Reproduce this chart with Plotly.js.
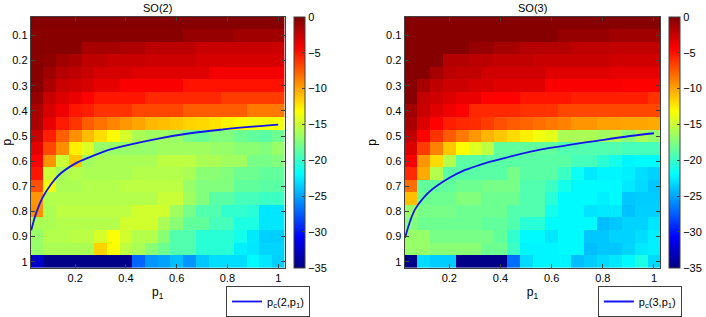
<!DOCTYPE html>
<html>
<head>
<meta charset="utf-8">
<script src="https://cdn.plot.ly/plotly-3.0.1.min.js"></script>
<style>
html,body{margin:0;padding:0;background:#fff;}
#chart{width:706px;height:317px;}
</style>
</head>
<body>
<div id="chart"></div>
<script>
// ---- data ----
const p1Values = [0.05,0.10,0.15,0.20,0.25,0.30,0.35,0.40,0.45,0.50,0.55,0.60,0.65,0.70,0.75,0.80,0.85,0.90,0.95,1.00];
const pValues  = [0.05,0.10,0.15,0.20,0.25,0.30,0.35,0.40,0.45,0.50,0.55,0.60,0.65,0.70,0.75,0.80,0.85,0.90,0.95,1.00];

const so2Values = [
 [-0.2,-0.2,-0.2,-0.2,-0.2,-0.2,-0.2,-0.2,-0.2,-0.2,-0.2,-0.2,-0.2,-0.2,-0.2,-0.2,-0.2,-0.2,-0.2,-0.2],
 [-0.3,-0.3,-0.3,-0.3,-0.3,-0.3,-0.3,-0.3,-0.3,-0.3,-0.3,-0.3,-0.75,-0.75,-0.75,-0.75,-1.1,-1.1,-1.1,-1.1],
 [-0.3,-0.3,-0.3,-0.3,-1.3,-1.3,-1.3,-1.6,-1.6,-2.0,-2.0,-2.0,-2.0,-2.5,-2.5,-2.5,-2.5,-2.5,-2.5,-2.65],
 [-0.3,-0.5,-1.1,-1.45,-2.15,-2.15,-2.5,-2.5,-2.5,-2.65,-2.65,-2.65,-2.65,-3.0,-3.0,-3.0,-3.0,-3.0,-3.0,-3.0],
 [-0.3,-1.1,-1.8,-2.15,-2.5,-3.0,-3.0,-3.0,-3.35,-3.35,-3.35,-3.35,-3.35,-3.35,-4.0,-4.0,-4.0,-4.0,-4.0,-4.0],
 [-0.25,-1.45,-2.5,-2.8,-3.0,-3.5,-3.5,-4.2,-4.2,-4.2,-4.2,-4.2,-5.0,-5.0,-5.0,-5.0,-5.0,-5.0,-5.0,-5.0],
 [-0.75,-2.5,-3.2,-3.7,-4.4,-5.1,-5.1,-5.1,-5.1,-5.75,-5.75,-5.75,-5.75,-5.75,-5.75,-6.4,-6.4,-6.4,-6.4,-6.4],
 [-1.45,-3.0,-3.85,-5.1,-5.4,-6.1,-6.1,-6.1,-6.8,-6.8,-6.8,-6.8,-7.5,-7.5,-7.5,-7.5,-7.5,-8.5,-8.5,-8.5],
 [-1.6,-3.6,-5.3,-6.2,-7.5,-8.3,-8.9,-9.6,-10.0,-10.7,-10.9,-11.2,-11.6,-11.8,-12.2,-12.7,-13.0,-13.5,-13.5,-13.5],
 [-2.5,-5.4,-7.6,-9.3,-10.8,-12.0,-13.0,-14.6,-16.0,-16.4,-16.4,-16.7,-17.8,-18.1,-17.4,-17.4,-18.1,-18.5,-18.8,-18.1],
 [-3.5,-6.8,-9.2,-12.6,-14.3,-16.7,-16.7,-16.7,-16.7,-16.7,-16.4,-16.4,-16.4,-16.4,-16.7,-16.7,-17.1,-17.1,-17.4,-16.7],
 [-4.4,-9.5,-15.0,-11.2,-16.4,-16.0,-16.0,-16.0,-16.0,-16.0,-15.4,-15.4,-15.4,-16.0,-16.0,-16.4,-16.4,-17.8,-17.8,-17.4],
 [-5.1,-15.0,-16.0,-15.7,-16.0,-16.0,-16.0,-16.0,-15.7,-15.7,-15.7,-15.7,-16.0,-17.1,-17.1,-17.4,-18.1,-18.1,-18.5,-18.5],
 [-7.1,-13.6,-16.0,-16.0,-15.7,-15.7,-15.7,-15.4,-15.4,-15.4,-15.4,-15.4,-16.7,-17.4,-17.4,-17.4,-18.5,-18.5,-18.8,-18.8],
 [-9.5,-15.7,-15.7,-15.7,-15.7,-15.7,-15.7,-15.7,-15.7,-15.7,-15.0,-15.0,-16.4,-17.4,-18.8,-18.8,-19.5,-19.5,-19.8,-19.8],
 [-9.2,-16.0,-15.4,-15.4,-15.4,-15.4,-15.4,-15.4,-14.7,-14.7,-14.7,-16.4,-17.8,-19.1,-19.1,-20.2,-20.2,-20.5,-22.7,-22.7],
 [-16.0,-16.0,-15.7,-15.7,-15.7,-15.7,-15.7,-14.7,-14.7,-14.7,-16.0,-17.1,-18.5,-18.5,-19.5,-19.5,-20.9,-20.9,-22.7,-22.7],
 [-16.7,-15.7,-15.7,-15.5,-15.5,-14.5,-13.3,-14.7,-15.7,-15.7,-17.1,-19.1,-19.1,-20.5,-20.5,-20.5,-21.2,-22.6,-23.5,-23.5],
 [-16.7,-16.0,-16.0,-16.0,-16.0,-11.6,-13.0,-15.4,-16.0,-17.1,-18.1,-19.1,-19.1,-20.5,-20.5,-20.5,-22.4,-22.7,-23.3,-23.3],
 [-32.5,-34.7,-34.7,-34.7,-34.7,-34.7,-34.7,-34.7,-27.2,-25.5,-25.1,-24.1,-25.5,-23.8,-23.0,-23.0,-23.0,-22.0,-22.7,-23.5]
];

const so3Values = [
 [-0.2,-0.2,-0.2,-0.2,-0.2,-0.2,-0.2,-0.2,-0.2,-0.2,-0.2,-0.2,-0.2,-0.2,-0.2,-0.2,-0.2,-0.2,-0.2,-0.2],
 [-0.2,-0.2,-0.2,-0.2,-0.2,-0.2,-0.2,-0.2,-0.2,-0.2,-0.2,-0.2,-0.75,-0.75,-0.75,-0.75,-1.1,-1.1,-1.1,-1.1],
 [-0.2,-0.2,-0.2,-0.2,-0.2,-0.75,-0.75,-1.3,-1.3,-1.8,-1.8,-1.8,-1.8,-2.15,-2.15,-2.15,-2.3,-2.3,-2.3,-2.3],
 [-0.2,-0.2,-0.2,-1.8,-1.8,-2.0,-2.0,-2.3,-2.3,-2.3,-2.5,-2.5,-2.5,-2.5,-2.5,-2.5,-2.8,-2.8,-2.8,-2.8],
 [-0.2,-0.2,-1.3,-2.0,-2.3,-2.3,-2.8,-2.8,-2.8,-2.8,-2.8,-3.35,-3.35,-3.35,-3.35,-3.35,-3.5,-3.5,-3.5,-3.5],
 [-0.3,-1.3,-2.15,-2.65,-2.65,-3.0,-3.0,-3.35,-3.35,-3.35,-3.35,-4.2,-4.2,-4.2,-4.2,-4.2,-4.2,-4.3,-4.3,-4.3],
 [-0.3,-2.3,-2.8,-3.2,-3.7,-3.7,-4.4,-4.4,-4.4,-5.1,-5.1,-5.1,-5.1,-5.4,-5.4,-5.4,-5.4,-5.4,-5.4,-6.1],
 [-1.1,-2.5,-3.35,-3.85,-4.4,-5.75,-5.75,-5.75,-5.75,-6.1,-6.1,-6.1,-6.8,-6.8,-6.8,-6.8,-6.8,-6.8,-6.8,-6.8],
 [-1.45,-3.2,-4.4,-5.4,-5.75,-5.9,-6.4,-7.1,-7.5,-7.8,-8.2,-8.5,-8.8,-9.5,-9.5,-9.9,-9.9,-10.0,-10.0,-10.2],
 [-2.15,-4.4,-6.1,-7.5,-8.5,-9.5,-10.6,-11.2,-11.9,-12.6,-13.6,-14.0,-16.0,-16.0,-16.0,-16.4,-16.0,-17.1,-16.0,-16.7],
 [-3.2,-6.4,-8.8,-11.2,-13.1,-14.3,-15.4,-18.5,-18.5,-18.5,-18.5,-18.5,-19.1,-19.1,-19.1,-19.1,-19.1,-19.5,-19.5,-19.5],
 [-4.2,-9.5,-11.9,-15.7,-18.8,-18.8,-18.8,-18.8,-18.8,-18.8,-18.8,-18.8,-18.8,-19.5,-19.5,-20.5,-21.2,-22.2,-22.0,-22.0],
 [-5.75,-10.2,-15.7,-18.8,-18.8,-18.8,-18.8,-18.8,-17.8,-18.8,-18.8,-18.8,-19.8,-21.5,-22.6,-22.2,-22.2,-22.4,-23.0,-23.4],
 [-8.2,-18.5,-18.5,-18.5,-18.1,-18.1,-17.8,-17.8,-17.8,-19.1,-19.1,-19.8,-21.2,-22.0,-22.0,-22.0,-22.0,-22.6,-23.1,-23.8],
 [-10.9,-18.1,-18.1,-18.1,-17.4,-17.4,-18.1,-18.1,-18.1,-19.1,-19.1,-20.5,-22.0,-22.0,-22.0,-22.4,-22.0,-23.8,-23.6,-23.6],
 [-16.7,-17.8,-17.8,-17.8,-18.1,-18.1,-18.1,-18.1,-19.1,-19.1,-19.1,-21.2,-22.0,-22.0,-22.8,-22.6,-22.6,-24.0,-23.5,-23.5],
 [-17.4,-18.1,-18.1,-18.1,-18.1,-18.1,-18.5,-18.5,-19.1,-20.5,-20.5,-22.0,-22.0,-22.0,-22.0,-24.1,-23.8,-23.4,-23.4,-22.7],
 [-16.7,-16.7,-17.8,-17.8,-17.8,-17.8,-17.8,-18.5,-20.2,-22.0,-22.0,-22.7,-22.0,-22.0,-23.8,-23.8,-23.4,-23.4,-23.0,-22.4],
 [-16.7,-16.7,-17.1,-17.1,-17.1,-17.1,-18.1,-18.1,-19.8,-22.2,-22.2,-22.2,-22.0,-22.0,-24.1,-23.8,-23.8,-23.3,-22.6,-22.4],
 [-34.7,-23.1,-23.6,-23.6,-34.7,-34.7,-34.7,-34.7,-26.9,-23.1,-22.2,-22.2,-22.2,-24.1,-23.6,-23.1,-22.7,-22.1,-21.0,-23.1]
];

const so2CurveP1 = [0.027,0.045,0.071,0.103,0.135,0.200,0.265,0.329,0.394,0.523,0.653,0.783,0.912,1.000];
const so2CurveP  = [0.875,0.811,0.746,0.695,0.656,0.610,0.581,0.556,0.539,0.511,0.489,0.474,0.462,0.455];
const so3CurveP1 = [0.027,0.047,0.066,0.099,0.131,0.196,0.260,0.325,0.389,0.518,0.648,0.777,0.906,1.000];
const so3CurveP  = [0.905,0.838,0.792,0.746,0.714,0.669,0.636,0.613,0.595,0.562,0.539,0.519,0.500,0.489];

const xTicks = [0.2,0.4,0.6,0.8,1];
const xTickText = ['0.2','0.4','0.6','0.8','1'];
const yTicks = [0.1,0.2,0.3,0.4,0.5,0.6,0.7,0.8,0.9,1];
const yTickText = ['0.1','0.2','0.3','0.4','0.5','0.6','0.7','0.8','0.9','1'];
const cbTicks = [-35,-30,-25,-20,-15,-10,-5,0];

// ---- styles ----
const W = 706, H = 317;
const FONT = '"Liberation Sans", Arial, Helvetica, sans-serif';
const AX = '#404040';
const jet = [
  [0.0,'rgb(0,0,128)'],[0.125,'rgb(0,0,255)'],[0.375,'rgb(0,255,255)'],
  [0.625,'rgb(255,255,0)'],[0.875,'rgb(255,0,0)'],[1.0,'rgb(128,0,0)']
];
const plotTop = 17, plotBot = 274;
const yDom = [1 - plotBot/H, 1 - plotTop/H];
const xDom1 = [31/W, 287/W];
const xDom2 = [408/W, 666/W];

function cbar(xpx){
  return {
    x: xpx/W, xanchor:'left', xpad:0, ypad:0,
    y: (yDom[0]+yDom[1])/2, yanchor:'middle',
    len: yDom[1]-yDom[0], lenmode:'fraction',
    thickness: 11, thicknessmode:'pixels',
    outlinewidth:1, outlinecolor:AX,
    tickvals: cbTicks, ticks:'inside', ticklen:3, tickcolor:AX,
    tickfont:{family:FONT,size:11,color:'#000'}
  };
}

const traces = [
  {type:'heatmap', x:p1Values, y:pValues, z:so2Values, colorscale:jet, zmin:-35, zmax:0,
   xaxis:'x', yaxis:'y', colorbar:cbar(297), hoverongaps:false},
  {type:'heatmap', x:p1Values, y:pValues, z:so3Values, colorscale:jet, zmin:-35, zmax:0,
   xaxis:'x2', yaxis:'y2', colorbar:cbar(674.5)},
  {type:'scatter', mode:'lines', x:so2CurveP1, y:so2CurveP, xaxis:'x', yaxis:'y',
   line:{color:'rgb(20,20,235)', width:1.8, shape:'spline'},
   name:'p<sub>c</sub>(2,p<sub>1</sub>)', showlegend:true, legend:'legend'},
  {type:'scatter', mode:'lines', x:so3CurveP1, y:so3CurveP, xaxis:'x2', yaxis:'y2',
   line:{color:'rgb(20,20,235)', width:1.8, shape:'spline'},
   name:'p<sub>c</sub>(3,p<sub>1</sub>)', showlegend:true, legend:'legend2'}
];

function xa(dom, anchor){
  return {domain:dom, anchor:anchor, range:[0.025,1.025], tickvals:xTicks, ticktext:xTickText,
    ticks:'inside', ticklen:4, tickcolor:AX, showline:true, linecolor:AX, linewidth:1, mirror:'allticks',
    showgrid:false, zeroline:false, tickfont:{family:FONT,size:11,color:'#000'},
    title:{text:'p<sub>1</sub>', font:{family:FONT,size:12,color:'#000'}, standoff:4}};
}
function ya(anchor){
  return {domain:yDom, anchor:anchor, range:[1.025,0.025], tickvals:yTicks, ticktext:yTickText,
    ticks:'inside', ticklen:4, tickcolor:AX, showline:true, linecolor:AX, linewidth:1, mirror:'allticks',
    showgrid:false, zeroline:false, tickfont:{family:FONT,size:11,color:'#000'},
    title:{text:'p', font:{family:FONT,size:12,color:'#000'}, standoff:6}};
}
function leg(rightPx){
  return {x:rightPx/W, xanchor:'right', y:1-292.7/H, yanchor:'top',
    bgcolor:'#fff', bordercolor:AX, borderwidth:1,
    font:{family:FONT,size:11,color:'#000'}, itemwidth:30, tracegroupgap:0};
}

const layout = {
  width:W, height:H, margin:{l:0,r:0,t:0,b:0},
  paper_bgcolor:'#fff', plot_bgcolor:'#fff',
  font:{family:FONT,size:11,color:'#000'},
  xaxis: xa(xDom1,'y'), yaxis: ya('x'),
  xaxis2: xa(xDom2,'y2'), yaxis2: ya('x2'),
  legend: leg(312.7), legend2: leg(687.7),
  annotations:[
    {text:'SO(2)', x:(xDom1[0]+xDom1[1])/2, y:1-8/H, xref:'paper', yref:'paper',
     showarrow:false, font:{family:FONT,size:11,color:'#000'}, xanchor:'center', yanchor:'middle'},
    {text:'SO(3)', x:(xDom2[0]+xDom2[1])/2, y:1-8/H, xref:'paper', yref:'paper',
     showarrow:false, font:{family:FONT,size:11,color:'#000'}, xanchor:'center', yanchor:'middle'}
  ]
};

Plotly.newPlot('chart', traces, layout, {displayModeBar:false, staticPlot:true});
</script>
</body>
</html>
